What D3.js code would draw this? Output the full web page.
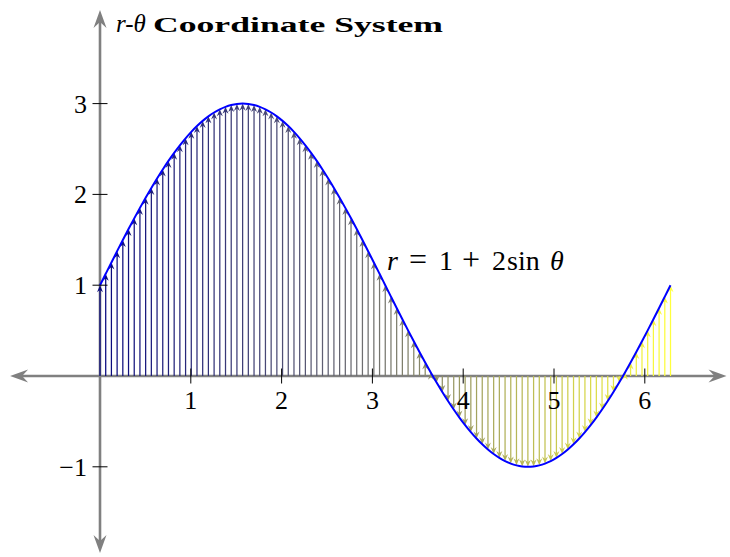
<!DOCTYPE html>
<html>
<head>
<meta charset="utf-8">
<script src="https://cdn.jsdelivr.net/npm/d3@7"></script>
<style>
  html, body { margin: 0; padding: 0; background: #fff; }
  svg { display: block; }
  text { font-family: "Liberation Serif", "DejaVu Serif", serif; fill: #000; }
</style>
</head>
<body>
<svg id="chart" width="730" height="557"></svg>
<script>
// Sample angles θ (101 samples over [0, 2π]) and the plotted relation r = 1 + 2 sin θ
const sampleCount = 101;
const thetaValues = d3.range(sampleCount).map(i => i * 2 * Math.PI / (sampleCount - 1));
const rValues = thetaValues.map(t => 1 + 2 * Math.sin(t));

// Axis tick values and labels
const xTicks = [1, 2, 3, 4, 5, 6];
const xTickLabels = ["1", "2", "3", "4", "5", "6"];
const yTicks = [-1, 1, 2, 3];
const yTickLabels = ["\u22121", "1", "2", "3"];

// Axis extents (data units)
const xAxisExtent = [-0.99, 6.9];
const yAxisExtent = [-1.95, 4.03];

// Colour ramp along θ for the vectors
const colorStops = [0, Math.PI, 2 * Math.PI];
const colorValues = ["#06067e", "#77776f", "#ffff3c"];

const svg = d3.select("#chart");
const unit = 90.8;
const x = d3.scaleLinear().domain([0, 1]).range([100, 100 + unit]);
const y = d3.scaleLinear().domain([0, 1]).range([376, 376 - unit]);
const color = d3.scaleLinear().domain(colorStops).range(colorValues).interpolate(d3.interpolateRgb);

const axisGray = "#808080";

// Stealth-style arrowhead: tip at origin, pointing along +x
function stealth(len, half, notch) {
  return `M0,0 L${-len},${-half} L${-len + notch},0 L${-len},${half} Z`;
}

// Axes with arrowheads at both ends
const axes = svg.append("g");
const x0 = x(xAxisExtent[0]), x1 = x(xAxisExtent[1]);
const y0 = y(yAxisExtent[0]), y1 = y(yAxisExtent[1]);
axes.append("line").attr("x1", x0 + 8).attr("x2", x1 - 8).attr("y1", y(0)).attr("y2", y(0))
  .attr("stroke", axisGray).attr("stroke-width", 2.6);
axes.append("line").attr("x1", x(0)).attr("x2", x(0)).attr("y1", y1 + 8).attr("y2", y0 - 8)
  .attr("stroke", axisGray).attr("stroke-width", 2.6);
const bigHead = stealth(18, 6.5, 6);
axes.append("path").attr("d", bigHead).attr("fill", axisGray)
  .attr("transform", `translate(${x1},${y(0)})`);
axes.append("path").attr("d", bigHead).attr("fill", axisGray)
  .attr("transform", `translate(${x0},${y(0)}) rotate(180)`);
axes.append("path").attr("d", bigHead).attr("fill", axisGray)
  .attr("transform", `translate(${x(0)},${y1}) rotate(-90)`);
axes.append("path").attr("d", bigHead).attr("fill", axisGray)
  .attr("transform", `translate(${x(0)},${y0}) rotate(90)`);

// Vectors from the θ-axis up (or down) to r(θ)
const data = thetaValues.map((t, i) => ({ t, r: rValues[i] }));
const vectors = svg.append("g");
const smallHead = stealth(7, 3, 2.4);
data.forEach(d => {
  const c = color(d.t);
  const px = x(d.t);
  const tipY = y(d.r);
  const dir = d.r >= 0 ? -1 : 1;
  const len = Math.abs(tipY - y(0));
  const shaftEnd = len > 5 ? tipY - dir * 4 : tipY;
  vectors.append("line")
    .attr("x1", px).attr("x2", px).attr("y1", y(0)).attr("y2", shaftEnd)
    .attr("stroke", c).attr("stroke-width", 1.25);
  if (len > 1) {
    vectors.append("path").attr("d", smallHead).attr("fill", c)
      .attr("transform", `translate(${px},${tipY}) rotate(${dir < 0 ? -90 : 90})`);
  }
});

// The curve r = 1 + 2 sin θ
svg.append("path")
  .datum(data)
  .attr("fill", "none")
  .attr("stroke", "#0000ff")
  .attr("stroke-width", 2)
  .attr("d", d3.line().x(d => x(d.t)).y(d => y(d.r)).curve(d3.curveCatmullRom));

// Tick marks
const ticks = svg.append("g").attr("stroke", "#000").attr("stroke-width", 1);
xTicks.forEach(v => {
  ticks.append("line").attr("x1", x(v)).attr("x2", x(v)).attr("y1", y(0) - 7.5).attr("y2", y(0) + 7.5);
});
yTicks.forEach(v => {
  ticks.append("line").attr("y1", y(v)).attr("y2", y(v)).attr("x1", x(0) - 7.5).attr("x2", x(0) + 7.5);
});

// Tick labels
const labelSize = 26;
xTicks.forEach((v, i) => {
  svg.append("text").attr("x", x(v)).attr("y", 409)
    .attr("text-anchor", "middle").attr("font-size", labelSize).text(xTickLabels[i]);
});
yTicks.forEach((v, i) => {
  svg.append("text").attr("x", 87).attr("y", y(v) + 9)
    .attr("text-anchor", "end").attr("font-size", labelSize).text(yTickLabels[i]);
});

// Title
const titleY = 32;
svg.append("text").attr("x", 116).attr("y", titleY).attr("font-size", 25)
  .attr("font-style", "italic").text("r-\u03b8");
svg.append("text").attr("x", 153).attr("y", titleY).attr("font-size", 21)
  .attr("font-family", "DejaVu Serif").attr("font-weight", "bold")
  .attr("textLength", 290).attr("lengthAdjust", "spacingAndGlyphs")
  .text("Coordinate System");

// Curve annotation, placed piece by piece
const noteY = 270;
const notePieces = [
  { s: "r", x: 387, italic: true, size: 28 },
  { s: "=", x: 409, size: 32, family: "DejaVu Serif" },
  { s: "1", x: 439, size: 28 },
  { s: "+", x: 462, size: 32, family: "DejaVu Serif" },
  { s: "2", x: 492, size: 28 },
  { s: "sin", x: 507, size: 28 },
  { s: "\u03b8", x: 550, italic: true, size: 28 }
];
notePieces.forEach(p => {
  svg.append("text").attr("x", p.x).attr("y", noteY).attr("font-size", p.size)
    .attr("font-family", p.family || null)
    .attr("font-style", p.italic ? "italic" : null).text(p.s);
});
</script>
</body>
</html>
